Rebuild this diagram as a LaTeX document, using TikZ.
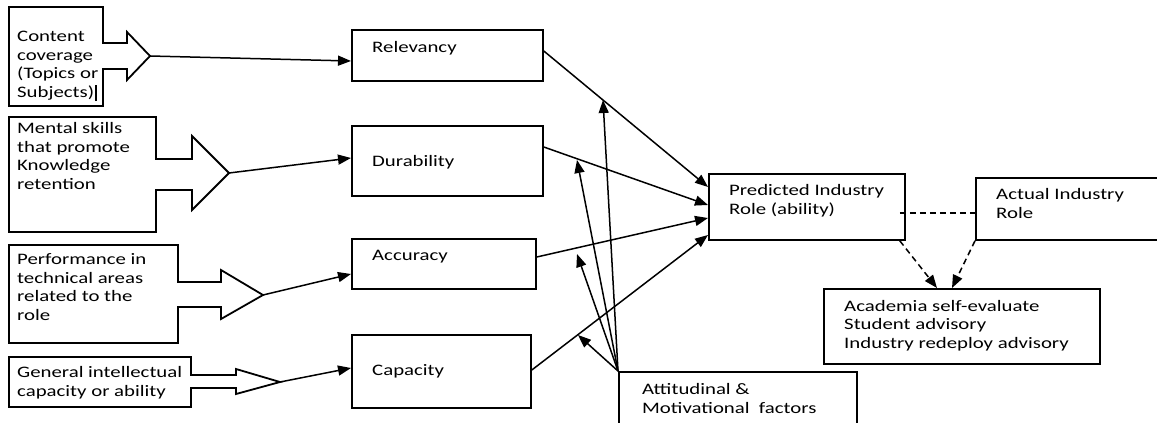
\documentclass[tikz,border=0pt]{standalone}
\usepackage{fontspec}
\setmainfont{Carlito}[FakeStretch=1.3]
\usepackage{tikz}
\usetikzlibrary{arrows.meta,positioning}
\tikzstyle{arrow} = [line width=1.5pt,->,>={Triangle[length=13pt,width=10pt]}]
\tikzstyle{dasharrow} = [arrow,dash pattern=on 6pt off 4pt]
\tikzstyle{box} = [draw, line width=1.8pt, anchor=north west, inner sep=0pt]
\tikzstyle{callout} = [draw, line width=1.8pt, line join=miter]
\tikzstyle{txt} = [anchor=base west, inner sep=0pt, align=left, font=\fontsize{16}{18.5}\selectfont]

\begin{document}
\begin{tikzpicture}[x=1pt,y=-1pt]
\path[use as bounding box, clip] (0,0) rectangle (1157,423);

% Input callouts
\draw[callout] (9,7) -- (103,7) -- (103,43) -- (127,43) -- (127,32) -- (150,56)
  -- (127,80) -- (127,69) -- (103,69) -- (103,106) -- (9,106) -- cycle;
\draw[callout] (9,117) -- (156,117) -- (156,159) -- (192,159) -- (192,136) -- (229,173)
  -- (192,210) -- (192,190) -- (156,190) -- (156,232) -- (9,232) -- cycle;
\draw[callout] (9,245) -- (178,245) -- (178,282) -- (221,282) -- (221,270) -- (263,295)
  -- (221,319) -- (221,307) -- (178,307) -- (178,343) -- (9,343) -- cycle;
\draw[callout] (9,357) -- (191,357) -- (191,375) -- (236,375) -- (236,369) -- (280,382)
  -- (236,394) -- (236,388) -- (191,388) -- (191,407) -- (9,407) -- cycle;
\coordinate (cctip) at (150,56);
\coordinate (mstip) at (229,173);
\coordinate (pftip) at (263,295);
\coordinate (gitip) at (280,382);

\node[txt] (cc) at (17,97) {Content\\coverage\\(Topics or\\Subjects)\kern1pt\vrule width 1.5pt height 12pt depth 4pt};
\node[txt] (ms) at (17,189) {Mental skills\\that promote\\Knowledge\\retention};
\node[txt] (pf) at (17,320) {Performance in\\technical areas\\related to the\\role};
\node[txt] (gi) at (17,396) {General intellectual\\capacity or ability};

% Factor boxes
\node[box, minimum width=191pt, minimum height=51pt] (rel) at (351,29) {};
\node[box, minimum width=191pt, minimum height=70pt] (dur) at (351,125) {};
\node[box, minimum width=184pt, minimum height=50pt] (acc) at (351,238) {};
\node[box, minimum width=179pt, minimum height=73pt] (cap) at (351,334) {};
\node[txt] at (372,52) {Relevancy};
\node[txt] at (372,166) {Durability};
\node[txt] at (372,260) {Accuracy};
\node[txt] at (372,375) {Capacity};

% Outcome boxes
\node[box, minimum width=196pt, minimum height=66pt] (pred) at (708,173) {};
\node[box, minimum width=200pt, minimum height=62pt] (act) at (975,177) {};
\node[box, minimum width=276pt, minimum height=75pt] (acad) at (823,288) {};
\node[box, minimum width=238pt, minimum height=70pt] (att) at (618,371) {};
\node[txt] at (729,214) {Predicted Industry\\Role (ability)};
\node[txt] at (996,218) {Actual Industry\\Role};
\node[txt] at (844,348) {Academia self-evaluate\\Student advisory\\Industry redeploy advisory};
\node[txt] at (642,413) {Attitudinal \&\\Motivational\ \ factors};

% Inputs to factors
\draw[arrow] (cctip) -- (rel.west |- 0,61);
\draw[arrow] (mstip) -- (dur.west |- 0,158);
\draw[arrow] (pftip) -- (acc.west |- 0,274);
\draw[arrow] (gitip) -- (cap.west |- 0,368);

% Factors to predicted role
\draw[arrow] (rel.east |- 0,51) -- (pred.west |- 0,187);
\draw[arrow] (dur.east |- 0,147) -- (pred.west |- 0,205);
\draw[arrow] (acc.east |- 0,257) -- (pred.west |- 0,218);
\draw[arrow] (cap.east |- 0,370) -- (pred.west |- 0,235);

% Moderating factors
\coordinate (mrel) at (603,100);
\coordinate (mdur) at (577,160);
\coordinate (macc) at (577,254);
\coordinate (mcap) at (578,335);
\foreach \t in {mrel,mdur,macc,mcap}
  \draw[arrow] (att.north west) -- (\t);

% Evaluation
\draw[line width=1.5pt, dash pattern=on 6pt off 4pt] ([xshift=-6pt]pred.east |- 0,213) -- (act.west |- 0,213);
\draw[dasharrow] ([xshift=-6pt]pred.south east) -- (acad.north -| 937,0);
\draw[dasharrow] (act.south west) -- (acad.north -| 952,0);
\end{tikzpicture}
\end{document}
